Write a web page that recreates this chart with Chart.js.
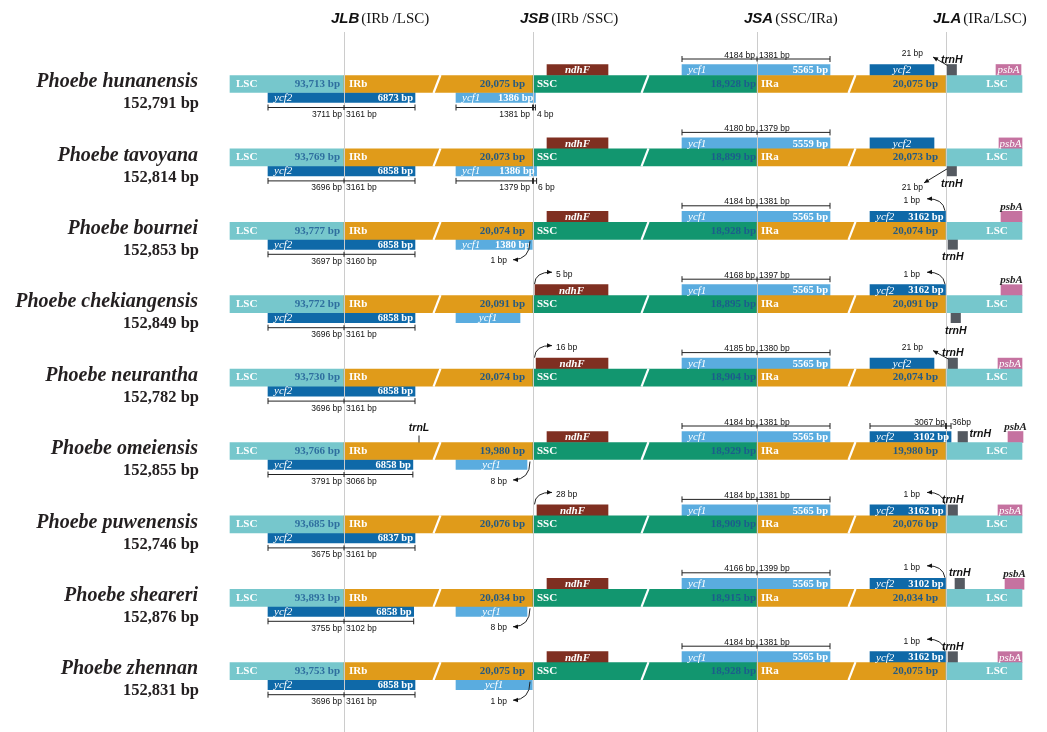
<!DOCTYPE html>
<html>
<head>
<meta charset="utf-8">
<title>IR boundaries - Phoebe</title>
<script src="https://cdn.jsdelivr.net/npm/chart.js@4.4.1/dist/chart.umd.min.js"></script>
<style>
  html, body { margin: 0; padding: 0; background: #fff; }
  canvas { display: block; }
</style>
</head>
<body>
<canvas id="irChart" width="1047" height="732"></canvas>
<script>
// ---- values ----
const species = ['Phoebe hunanensis', 'Phoebe tavoyana', 'Phoebe bournei', 'Phoebe chekiangensis',
  'Phoebe neurantha', 'Phoebe omeiensis', 'Phoebe puwenensis', 'Phoebe sheareri', 'Phoebe zhennan'];
const genomeSize = [152791, 152814, 152853, 152849, 152782, 152855, 152746, 152876, 152831];
const lscSize = [93713, 93769, 93777, 93772, 93730, 93766, 93685, 93893, 93753];
const irbSize = [20075, 20073, 20074, 20091, 20074, 19980, 20076, 20034, 20075];
const sscSize = [18928, 18899, 18928, 18895, 18904, 18929, 18909, 18915, 18928];
const iraSize = [20075, 20073, 20074, 20091, 20074, 19980, 20076, 20034, 20075];

const junctionNames = ['JLB', 'JSB', 'JSA', 'JLA'];
const junctionSides = ['(IRb /LSC)', '(IRb /SSC)', '(SSC/IRa)', '(IRa/LSC)'];

// ycf2 across JLB
const ycf2bLen = [6873, 6858, 6858, 6858, 6858, 6858, 6837, 6858, 6858];
const ycf2bInLsc = [3711, 3696, 3697, 3696, 3696, 3791, 3675, 3755, 3696];
const ycf2bInIrb = [3161, 3161, 3160, 3161, 3161, 3066, 3161, 3102, 3161];

// ycf1 at JSB (lower strand)
const ycf1bShown = [true, true, true, true, false, true, false, true, true];
const ycf1bLen = [1386, 1386, 1380, null, null, null, null, null, null];
const ycf1bInIrb = [1381, 1379, null, null, null, null, null, null, null];
const ycf1bGap = [4, 6, -1, null, null, -8, null, -8, -1]; // + into SSC, - short of JSB

// ndhF distance from JSB
const ndhFGap = [null, null, null, 5, 16, null, 28, null, null];

// ycf1 across JSA
const ycf1aLen = [5565, 5559, 5565, 5565, 5565, 5565, 5565, 5565, 5565];
const ycf1aInSsc = [4184, 4180, 4184, 4168, 4185, 4184, 4184, 4166, 4184];
const ycf1aInIra = [1381, 1379, 1381, 1397, 1380, 1381, 1381, 1399, 1381];

// ycf2 near JLA
const ycf2aLen = [null, null, 3162, 3162, null, 3102, 3162, 3102, 3162];
const ycf2aGap = [null, null, -1, -1, null, 36, -1, -1, -1];
const ycf2aInIra = [null, null, null, null, null, 3067, null, null, null];

// trnH / trnL
const trnHGap = [21, 21, null, null, 21, null, null, null, null];
const trnHStrand = ['+', '-', '-', '-', '+', '+', '+', '+', '+'];
const trnLRows = [false, false, false, false, false, true, false, false, false];

// ---- schematic layout (layout units = px on the 1047 x 732 canvas) ----
const L = {
  left: 230, jlb: 344, jsb: 533, jsa: 757, jla: 946, right: 1022,
  breaks: [437, 645, 852],
  row0: 84, step: 73.4, regionH: 17, upH: 11, lowH: 10,
  guideTop: 32, trnLx: 419
};
const trnHShift = [1, 1, 2, 5, 2, 12, 2, 9, 2];
const trnHLabelPos = ['above', 'below', 'below', 'below', 'above', 'right', 'above', 'above', 'above'];
const psbASpan = [[996, 1021], [999, 1022], [1001, 1022], [1001, 1022], [998, 1022],
  [1008, 1023], [998, 1022], [1005, 1024], [998, 1022]];
const psbALabelAbove = [false, false, true, true, false, true, false, true, false];

const colors = {
  lsc: '#76c7cc', ir: '#e09b1a', ssc: '#12966f',
  ycf2: '#0f69a8', ycf1: '#5aacdf', ndhF: '#7f2f21', psbA: '#c572a0', trnH: '#555a61'
};
const SERIF = '"Liberation Serif", "Times New Roman", serif';
const SANS = '"Liberation Sans", Arial, sans-serif';

const fmt = n => n.toLocaleString('en-US');
const rowCenter = i => L.row0 + i * L.step;

// ---- bars ----
const regionBars = [], upBars = [], lowBars = [];
species.forEach((name, i) => {
  const yc = rowCenter(i);
  const yUp = yc - L.regionH / 2 - L.upH / 2;
  const yLow = yc + L.regionH / 2 + L.lowH / 2;

  regionBars.push({ x: [L.left, L.jlb], y: yc, color: colors.lsc });
  regionBars.push({ x: [L.jlb, L.jsb], y: yc, color: colors.ir });
  regionBars.push({ x: [L.jsb, L.jsa], y: yc, color: colors.ssc });
  regionBars.push({ x: [L.jsa, L.jla], y: yc, color: colors.ir });
  regionBars.push({ x: [L.jla, L.right], y: yc, color: colors.lsc });

  // lower strand
  lowBars.push({ x: [L.jlb - 76, L.jlb + 71 * ycf2bInIrb[i] / 3161], y: yLow, color: colors.ycf2,
    gene: 'ycf2', bp: ycf2bLen[i], namePos: 'left' });
  if (ycf1bShown[i]) {
    const g = ycf1bGap[i];
    const endPx = g == null ? -13 : (g > 0 ? g * 0.6 : g * 0.75);
    lowBars.push({ x: [L.jsb - 77, L.jsb + endPx], y: yLow, color: colors.ycf1,
      gene: 'ycf1', bp: ycf1bLen[i], namePos: ycf1bLen[i] ? 'left' : 'center' });
  }
  if (trnHStrand[i] === '-') {
    lowBars.push({ x: [L.jla + trnHShift[i], L.jla + trnHShift[i] + 9.5], y: yLow, color: colors.trnH });
  }

  // upper strand
  const nStart = ndhFGap[i] == null ? 14 : Math.min(4, 1.5 + ndhFGap[i] * 0.1);
  upBars.push({ x: [L.jsb + nStart, L.jsb + 75], y: yUp, color: colors.ndhF, gene: 'ndhF', namePos: 'center', bold: true });
  upBars.push({ x: [L.jsa - 75, L.jsa + 73], y: yUp, color: colors.ycf1, gene: 'ycf1', bp: ycf1aLen[i], namePos: 'left' });
  const g2 = ycf2aGap[i];
  const end2 = g2 == null ? -12 : (g2 < 0 ? g2 * 0.5 : g2 * 0.14);
  upBars.push({ x: [L.jla - 76, L.jla + end2], y: yUp, color: colors.ycf2, gene: 'ycf2', bp: ycf2aLen[i],
    namePos: ycf2aLen[i] ? 'left' : 'center' });
  if (trnHStrand[i] === '+') {
    upBars.push({ x: [L.jla + trnHShift[i], L.jla + trnHShift[i] + 9.5], y: yUp, color: colors.trnH });
  }
  upBars.push({ x: psbASpan[i], y: yUp, color: colors.psbA, gene: psbALabelAbove[i] ? null : 'psbA', namePos: 'center' });
});

// ---- drawing helpers ----
function txt(ctx, s, x, y, font, color, align, base) {
  ctx.font = font;
  ctx.fillStyle = color;
  ctx.textAlign = align || 'left';
  ctx.textBaseline = base || 'alphabetic';
  ctx.fillText(s, x, y);
}
function seg(ctx, x0, y0, x1, y1) {
  ctx.beginPath(); ctx.moveTo(x0, y0); ctx.lineTo(x1, y1); ctx.stroke();
}
function head(ctx, x, y, ang, size) {
  ctx.save();
  ctx.translate(x, y); ctx.rotate(ang);
  ctx.beginPath(); ctx.moveTo(0, 0); ctx.lineTo(-size, -size * 0.45); ctx.lineTo(-size, size * 0.45);
  ctx.closePath(); ctx.fill();
  ctx.restore();
}
function curveArrow(ctx, p0, c, p1) {
  ctx.beginPath(); ctx.moveTo(p0[0], p0[1]); ctx.quadraticCurveTo(c[0], c[1], p1[0], p1[1]); ctx.stroke();
  head(ctx, p1[0], p1[1], Math.atan2(p1[1] - c[1], p1[0] - c[0]), 5);
}
function straightArrow(ctx, p0, p1) {
  seg(ctx, p0[0], p0[1], p1[0], p1[1]);
  head(ctx, p1[0], p1[1], Math.atan2(p1[1] - p0[1], p1[0] - p0[0]), 5);
}
function measure(ctx, x0, xm, x1, y) {
  seg(ctx, x0, y, x1, y);
  seg(ctx, x0, y - 3, x0, y + 3);
  seg(ctx, x1, y - 3, x1, y + 3);
  seg(ctx, xm, y - 2.5, xm, y + 2.5);
}

const boundaryPlugin = {
  id: 'boundaryPlugin',
  afterDatasetsDraw(chart) {
    const ctx = chart.ctx;
    const X = v => chart.scales.x.getPixelForValue(v);
    const Y = v => chart.scales.y.getPixelForValue(v);
    ctx.save();

    // junction guide lines
    ctx.strokeStyle = '#cccccc';
    ctx.lineWidth = 1;
    [L.jlb, L.jsb, L.jsa, L.jla].forEach(j => {
      const xx = Math.round(X(j)) + 0.5;
      seg(ctx, xx, Y(L.guideTop), xx, Y(732));
    });

    // header
    [L.jlb, L.jsb, L.jsa, L.jla].forEach((j, k) => {
      const x0 = X(j - 13);
      ctx.font = `bold italic 15px ${SANS}`;
      const w = ctx.measureText(junctionNames[k]).width;
      txt(ctx, junctionNames[k], x0, Y(23), ctx.font, '#111');
      txt(ctx, junctionSides[k], x0 + w + 2, Y(23), `15px ${SERIF}`, '#111');
    });

    // breaks in the region bars
    ctx.strokeStyle = '#ffffff';
    ctx.lineWidth = 2.2;
    species.forEach((_, i) => {
      const yc = rowCenter(i);
      L.breaks.forEach(b => seg(ctx, X(b - 3.5), Y(yc + 9), X(b + 3.5), Y(yc - 9)));
    });

    // gene names and sizes inside boxes
    [1, 2].forEach(d => {
      const meta = chart.getDatasetMeta(d);
      meta.data.forEach((el, j) => {
        const raw = chart.data.datasets[d].data[j];
        if (!raw.gene) return;
        const x0 = Math.min(el.base, el.x), x1 = Math.max(el.base, el.x);
        const font = `${raw.bold ? 'bold ' : ''}italic 11px ${SERIF}`;
        if (raw.namePos === 'center') {
          txt(ctx, raw.gene, (x0 + x1) / 2, el.y + 0.5, font, '#fff', 'center', 'middle');
        } else {
          txt(ctx, raw.gene, x0 + 6, el.y + 0.5, font, '#fff', 'left', 'middle');
        }
        if (raw.bp) txt(ctx, raw.bp + ' bp', x1 - 2, el.y + 0.5, `bold 10.5px ${SERIF}`, '#fff', 'right', 'middle');
      });
    });

    ctx.strokeStyle = '#222';
    ctx.fillStyle = '#222';
    ctx.lineWidth = 1;
    const small = `8.5px ${SANS}`;
    const geneFont = `bold italic 10.5px ${SANS}`;

    species.forEach((name, i) => {
      const yc = rowCenter(i);
      const rTop = yc - L.regionH / 2, rBot = yc + L.regionH / 2;
      const upTop = rTop - L.upH, lowTop = rBot, lowBot = rBot + L.lowH;
      const regFont = `bold 11px ${SERIF}`;

      // species name and genome size
      txt(ctx, name, X(198), Y(yc - 2), `bold italic 20px ${SERIF}`, '#231f20', 'right', 'middle');
      txt(ctx, fmt(genomeSize[i]) + ' bp', X(199), Y(yc + 20), `bold 16.5px ${SERIF}`, '#231f20', 'right', 'middle');

      // region labels
      txt(ctx, 'LSC', X(L.left + 6), Y(yc), regFont, '#fff', 'left', 'middle');
      txt(ctx, fmt(lscSize[i]) + ' bp', X(L.jlb - 4), Y(yc), regFont, '#2f6f9f', 'right', 'middle');
      txt(ctx, 'IRb', X(L.jlb + 5), Y(yc), regFont, '#fff', 'left', 'middle');
      txt(ctx, fmt(irbSize[i]) + ' bp', X(L.jsb - 8), Y(yc), regFont, '#255a82', 'right', 'middle');
      txt(ctx, 'SSC', X(L.jsb + 4), Y(yc), regFont, '#fff', 'left', 'middle');
      txt(ctx, fmt(sscSize[i]) + ' bp', X(L.jsa - 1), Y(yc), regFont, '#1c5c8c', 'right', 'middle');
      txt(ctx, 'IRa', X(L.jsa + 4), Y(yc), regFont, '#fff', 'left', 'middle');
      txt(ctx, fmt(iraSize[i]) + ' bp', X(L.jla - 8), Y(yc), regFont, '#255a82', 'right', 'middle');
      txt(ctx, 'LSC', X(L.right - 25), Y(yc), regFont, '#fff', 'center', 'middle');

      // ycf2 across JLB
      const y2s = L.jlb - 76, y2e = L.jlb + 71 * ycf2bInIrb[i] / 3161;
      const my = lowBot + 5;
      measure(ctx, X(y2s), X(L.jlb), X(y2e), Y(my));
      txt(ctx, ycf2bInLsc[i] + ' bp', X(L.jlb - 2), Y(my + 9.5), small, '#111', 'right');
      txt(ctx, ycf2bInIrb[i] + ' bp', X(L.jlb + 2), Y(my + 9.5), small, '#111', 'left');

      // ycf1 at JSB
      const g = ycf1bGap[i];
      if (g != null && g > 0) {
        const e = L.jsb + g * 0.6;
        measure(ctx, X(L.jsb - 77), X(L.jsb), X(L.jsb), Y(my));
        measure(ctx, X(L.jsb), X(L.jsb), X(e), Y(my));
        txt(ctx, ycf1bInIrb[i] + ' bp', X(L.jsb - 3), Y(my + 9.5), small, '#111', 'right');
        txt(ctx, g + ' bp', X(e + 1.5), Y(my + 9.5), small, '#111', 'left');
      } else if (g != null) {
        curveArrow(ctx, [X(L.jsb - 3), Y(lowTop + 2)], [X(L.jsb - 3), Y(lowBot + 10)], [X(L.jsb - 20), Y(lowBot + 10.5)]);
        txt(ctx, (-g) + ' bp', X(L.jsb - 26), Y(lowBot + 14), small, '#111', 'right');
      }

      // ndhF distance from JSB
      if (ndhFGap[i] != null) {
        curveArrow(ctx, [X(L.jsb + 1.5), Y(upTop - 0.5)], [X(L.jsb + 2), Y(upTop - 13)], [X(L.jsb + 19), Y(upTop - 12.5)]);
        txt(ctx, ndhFGap[i] + ' bp', X(L.jsb + 23), Y(upTop - 8), small, '#111', 'left');
      }

      // ycf1 across JSA
      const ml = upTop - 5.5;
      measure(ctx, X(L.jsa - 75), X(L.jsa), X(L.jsa + 73), Y(ml));
      txt(ctx, ycf1aInSsc[i] + ' bp', X(L.jsa - 2), Y(ml - 1.5), small, '#111', 'right');
      txt(ctx, ycf1aInIra[i] + ' bp', X(L.jsa + 2), Y(ml - 1.5), small, '#111', 'left');

      // ycf2 near JLA
      const g2 = ycf2aGap[i];
      if (g2 != null && g2 > 0) {
        const e = L.jla + g2 * 0.14;
        measure(ctx, X(L.jla - 76), X(L.jla), X(L.jla), Y(ml));
        measure(ctx, X(L.jla), X(L.jla), X(e), Y(ml));
        txt(ctx, ycf2aInIra[i] + ' bp', X(L.jla - 1), Y(ml - 1.5), small, '#111', 'right');
        txt(ctx, g2 + 'bp', X(e + 1), Y(ml - 1.5), small, '#111', 'left');
      } else if (g2 != null) {
        curveArrow(ctx, [X(L.jla - 1), Y(upTop - 0.5)], [X(L.jla - 3), Y(upTop - 13)], [X(L.jla - 19), Y(upTop - 12.5)]);
        txt(ctx, (-g2) + ' bp', X(L.jla - 26), Y(upTop - 8), small, '#111', 'right');
      }

      // trnH
      const tx0 = L.jla + trnHShift[i], tx1 = tx0 + 9.5;
      const up = trnHStrand[i] === '+';
      if (trnHLabelPos[i] === 'above') txt(ctx, 'trnH', X((tx0 + tx1) / 2), Y(upTop - 2), geneFont, '#111', 'center');
      if (trnHLabelPos[i] === 'below') txt(ctx, 'trnH', X((tx0 + tx1) / 2), Y(lowBot + 11), geneFont, '#111', 'center');
      if (trnHLabelPos[i] === 'right') txt(ctx, 'trnH', X(tx1 + 2), Y(upTop + 5.5), geneFont, '#111', 'left');
      if (trnHGap[i] != null) {
        if (up) {
          straightArrow(ctx, [X(tx0 + 0.5), Y(upTop + 1)], [X(L.jla - 13), Y(upTop - 7.5)]);
          txt(ctx, trnHGap[i] + ' bp', X(L.jla - 23), Y(upTop - 8.5), small, '#111', 'right');
        } else {
          straightArrow(ctx, [X(tx0), Y(lowTop + 3)], [X(L.jla - 22), Y(lowBot + 7)]);
          txt(ctx, trnHGap[i] + ' bp', X(L.jla - 23), Y(lowBot + 14), small, '#111', 'right');
        }
      }

      // psbA label above its box
      if (psbALabelAbove[i]) {
        const pc = (psbASpan[i][0] + psbASpan[i][1]) / 2;
        txt(ctx, 'psbA', X(pc), Y(upTop - 1.5), `bold italic 11px ${SERIF}`, '#222', 'center');
      }

      // trnL
      if (trnLRows[i]) {
        seg(ctx, X(L.trnLx), Y(rTop - 7), X(L.trnLx), Y(rTop));
        txt(ctx, 'trnL', X(L.trnLx), Y(rTop - 11.5), geneFont, '#111', 'center');
      }
    });

    ctx.restore();
  }
};

const barColor = c => (c.raw && c.raw.color) || '#999';

new Chart(document.getElementById('irChart'), {
  type: 'bar',
  data: {
    datasets: [
      { label: 'regions', data: regionBars, backgroundColor: barColor, barThickness: L.regionH, grouped: false, borderWidth: 0 },
      { label: 'upper genes', data: upBars, backgroundColor: barColor, barThickness: L.upH, grouped: false, borderWidth: 0 },
      { label: 'lower genes', data: lowBars, backgroundColor: barColor, barThickness: L.lowH, grouped: false, borderWidth: 0 }
    ]
  },
  options: {
    indexAxis: 'y',
    responsive: false,
    animation: false,
    events: [],
    layout: { padding: 0 },
    scales: {
      x: { type: 'linear', min: 0, max: 1047, offset: false, display: false },
      y: { type: 'linear', min: 0, max: 732, reverse: true, offset: false, display: false }
    },
    plugins: { legend: { display: false }, tooltip: { enabled: false } }
  },
  plugins: [boundaryPlugin]
});
</script>
</body>
</html>
